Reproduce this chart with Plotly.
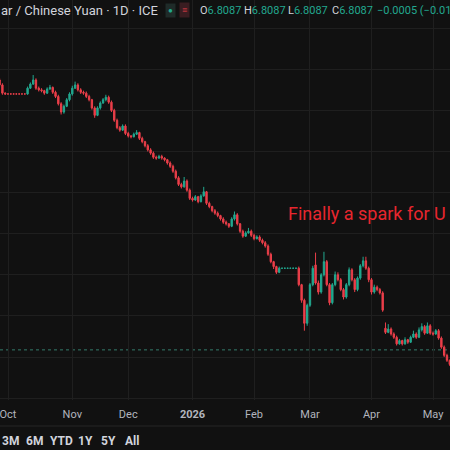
import pandas as pd
import plotly.graph_objects as go

# daily USD/CNH candles (ICE)
opens = [
    7.139, 7.137, 7.131, 7.121, 7.120, 7.120, 7.120, 7.120, 7.120, 7.120,
    7.120, 7.120, 7.127, 7.132, 7.137, 7.127, 7.125, 7.124, 7.121, 7.126,
    7.128, 7.122, 7.117, 7.108, 7.098, 7.105, 7.113, 7.120, 7.127, 7.131,
    7.125, 7.122, 7.121, 7.117, 7.113, 7.103, 7.094, 7.103, 7.109, 7.113,
    7.116, 7.110, 7.100, 7.088, 7.079, 7.076, 7.081, 7.072, 7.069, 7.068,
    7.071, 7.073, 7.066, 7.062, 7.057, 7.052, 7.048, 7.043, 7.042, 7.044,
    7.042, 7.040, 7.036, 7.032, 7.026, 7.018, 7.010, 7.007, 7.014, 7.003,
    6.993, 6.991, 6.995, 6.989, 6.996, 7.001, 6.987, 6.983, 6.978, 6.975,
    6.972, 6.968, 6.964, 6.962, 6.959, 6.968, 6.973, 6.962, 6.953, 6.947,
    6.951, 6.953, 6.948, 6.944, 6.946, 6.942, 6.939, 6.935, 6.925, 6.916,
    6.910, 6.903, 6.908, 6.908, 6.908, 6.908, 6.908, 6.908, 6.908, 6.888,
    6.869, 6.841, 6.863, 6.888, 6.912, 6.890, 6.879, 6.900, 6.916, 6.888,
    6.866, 6.888, 6.900, 6.894, 6.882, 6.873, 6.888, 6.906, 6.894, 6.882,
    6.896, 6.911, 6.917, 6.908, 6.894, 6.879, 6.885, 6.882, 6.878, 6.835,
    6.830, 6.834, 6.828, 6.824, 6.816, 6.820, 6.816, 6.821, 6.818, 6.824,
    6.828, 6.824, 6.833, 6.837, 6.829, 6.838, 6.829, 6.828, 6.832, 6.823,
    6.812, 6.802, 6.796,
]
highs = [
    7.142, 7.139, 7.133, 7.122, 7.120, 7.120, 7.120, 7.120, 7.120, 7.120,
    7.120, 7.129, 7.134, 7.143, 7.139, 7.129, 7.127, 7.125, 7.128, 7.131,
    7.129, 7.124, 7.119, 7.110, 7.107, 7.115, 7.122, 7.130, 7.135, 7.133,
    7.127, 7.124, 7.123, 7.119, 7.114, 7.105, 7.105, 7.111, 7.115, 7.119,
    7.118, 7.112, 7.102, 7.090, 7.081, 7.083, 7.083, 7.074, 7.070, 7.073,
    7.076, 7.074, 7.068, 7.063, 7.059, 7.054, 7.050, 7.045, 7.046, 7.046,
    7.043, 7.041, 7.038, 7.034, 7.028, 7.020, 7.012, 7.019, 7.016, 7.005,
    6.995, 6.997, 6.996, 6.998, 7.007, 7.002, 6.989, 6.984, 6.980, 6.977,
    6.973, 6.970, 6.966, 6.963, 6.970, 6.977, 6.975, 6.963, 6.955, 6.953,
    6.957, 6.955, 6.950, 6.948, 6.948, 6.944, 6.941, 6.937, 6.927, 6.917,
    6.911, 6.910, 6.908, 6.908, 6.908, 6.908, 6.908, 6.908, 6.910, 6.889,
    6.871, 6.865, 6.890, 6.911, 6.927, 6.893, 6.902, 6.928, 6.918, 6.890,
    6.890, 6.904, 6.903, 6.896, 6.884, 6.890, 6.909, 6.908, 6.896, 6.898,
    6.913, 6.922, 6.922, 6.910, 6.896, 6.888, 6.887, 6.884, 6.880, 6.842,
    6.840, 6.836, 6.830, 6.826, 6.822, 6.821, 6.824, 6.822, 6.826, 6.832,
    6.830, 6.836, 6.841, 6.839, 6.842, 6.840, 6.831, 6.834, 6.834, 6.825,
    6.814, 6.804, 6.797,
]
lows = [
    7.135, 7.129, 7.119, 7.119, 7.120, 7.120, 7.120, 7.120, 7.120, 7.120,
    7.120, 7.119, 7.126, 7.131, 7.125, 7.123, 7.122, 7.119, 7.120, 7.125,
    7.120, 7.115, 7.106, 7.095, 7.096, 7.104, 7.111, 7.118, 7.126, 7.123,
    7.120, 7.119, 7.115, 7.111, 7.101, 7.091, 7.093, 7.101, 7.108, 7.111,
    7.108, 7.098, 7.086, 7.077, 7.074, 7.075, 7.070, 7.067, 7.066, 7.067,
    7.070, 7.064, 7.060, 7.055, 7.050, 7.046, 7.041, 7.040, 7.041, 7.040,
    7.038, 7.034, 7.030, 7.024, 7.016, 7.008, 7.005, 7.006, 7.001, 6.991,
    6.989, 6.990, 6.987, 6.988, 6.995, 6.985, 6.981, 6.976, 6.973, 6.970,
    6.966, 6.962, 6.960, 6.957, 6.958, 6.966, 6.960, 6.951, 6.945, 6.946,
    6.950, 6.946, 6.942, 6.943, 6.940, 6.937, 6.933, 6.923, 6.914, 6.907,
    6.901, 6.902, 6.908, 6.908, 6.908, 6.908, 6.908, 6.908, 6.886, 6.866,
    6.832, 6.838, 6.861, 6.886, 6.888, 6.876, 6.877, 6.898, 6.886, 6.863,
    6.864, 6.886, 6.892, 6.880, 6.870, 6.871, 6.886, 6.892, 6.879, 6.880,
    6.894, 6.909, 6.906, 6.891, 6.876, 6.877, 6.880, 6.876, 6.855, 6.828,
    6.829, 6.826, 6.822, 6.814, 6.815, 6.814, 6.815, 6.816, 6.817, 6.823,
    6.822, 6.823, 6.831, 6.827, 6.828, 6.827, 6.826, 6.827, 6.821, 6.810,
    6.800, 6.794, 6.789,
]
closes = [
    7.137, 7.131, 7.121, 7.120, 7.120, 7.120, 7.120, 7.120, 7.120, 7.120,
    7.120, 7.127, 7.132, 7.137, 7.127, 7.125, 7.124, 7.121, 7.126, 7.128,
    7.122, 7.117, 7.108, 7.098, 7.105, 7.113, 7.120, 7.127, 7.131, 7.125,
    7.122, 7.121, 7.117, 7.113, 7.103, 7.094, 7.103, 7.109, 7.113, 7.116,
    7.110, 7.100, 7.088, 7.079, 7.076, 7.081, 7.072, 7.069, 7.068, 7.071,
    7.073, 7.066, 7.062, 7.057, 7.052, 7.048, 7.043, 7.042, 7.044, 7.042,
    7.040, 7.036, 7.032, 7.026, 7.018, 7.010, 7.007, 7.014, 7.003, 6.993,
    6.991, 6.995, 6.989, 6.996, 7.001, 6.987, 6.983, 6.978, 6.975, 6.972,
    6.968, 6.964, 6.962, 6.959, 6.968, 6.973, 6.962, 6.953, 6.947, 6.951,
    6.953, 6.948, 6.944, 6.946, 6.942, 6.939, 6.935, 6.925, 6.916, 6.910,
    6.903, 6.908, 6.908, 6.908, 6.908, 6.908, 6.908, 6.908, 6.888, 6.869,
    6.841, 6.863, 6.888, 6.908, 6.890, 6.879, 6.900, 6.916, 6.888, 6.866,
    6.888, 6.900, 6.894, 6.882, 6.873, 6.888, 6.906, 6.894, 6.882, 6.896,
    6.911, 6.917, 6.908, 6.894, 6.879, 6.885, 6.882, 6.878, 6.857, 6.830,
    6.834, 6.828, 6.824, 6.816, 6.820, 6.816, 6.821, 6.818, 6.824, 6.828,
    6.824, 6.833, 6.837, 6.829, 6.838, 6.829, 6.828, 6.832, 6.823, 6.812,
    6.802, 6.796, 6.791,
]

dates = [d.strftime("%Y-%m-%d") for d in pd.bdate_range("2025-09-25", periods=len(closes))]

month_ticks = ["2025-10-01", "2025-11-03", "2025-12-01", "2026-01-01",
               "2026-02-02", "2026-03-02", "2026-04-01", "2026-05-01"]
month_labels = ["Oct", "Nov", "Dec", "<b>2026</b>", "Feb", "Mar", "Apr", "May"]

last_price = 6.8087
legend_title = "ar / Chinese Yuan · 1D · ICE"
ohlc_fields = [("O", "6.8087"), ("H", "6.8087"), ("L", "6.8087"), ("C", "6.8087")]
change_text = "−0.0005 (−0.01%"
note_text = "Finally a spark for U"
range_buttons = ["3M", "6M", "YTD", "1Y", "5Y", "All"]

BG = "#111111"
GRID = "#1f1f1f"
UP = "#22a88f"
DOWN = "#ec3f4a"
TXT = "#d1d4dc"
FONT = "Roboto"

W, H, PLOT_H = 450, 450, 400


def xp(px):
    return px / W


def yp(py):
    return (PLOT_H - py) / PLOT_H


fig = go.Figure(
    go.Candlestick(
        x=dates, open=opens, high=highs, low=lows, close=closes,
        increasing=dict(line=dict(color=UP, width=1), fillcolor=UP),
        decreasing=dict(line=dict(color=DOWN, width=1), fillcolor=DOWN),
        whiskerwidth=0, showlegend=False, hoverinfo="skip",
    )
)

fig.add_shape(type="line", xref="paper", x0=0, x1=1, yref="y", y0=last_price, y1=last_price,
              line=dict(color="rgba(60,150,130,0.8)", width=1, dash="dot"), layer="below")
fig.add_shape(type="line", xref="paper", x0=0, x1=1, yref="paper", y0=yp(426), y1=yp(426),
              line=dict(color="#262626", width=1))

ann = []
ann.append(dict(x=xp(-1), y=yp(10), text=legend_title, xanchor="left",
                font=dict(color=TXT, size=13)))
ann.append(dict(x=xp(170), y=yp(10), text="●", xanchor="center", bgcolor="#1f2b29",
                font=dict(color=UP, size=8), borderpad=2))
ann.append(dict(x=xp(184), y=yp(10), text="≡", xanchor="center", bgcolor="#3a1d21",
                font=dict(color=DOWN, size=9), borderpad=2))
for (lbl, val), px in zip(ohlc_fields, [198, 242, 286, 330]):
    ann.append(dict(x=xp(px), y=yp(10), xanchor="left",
                    text=f"{lbl}<span style='color:{UP}'>{val}</span>",
                    font=dict(color=TXT, size=11)))
ann.append(dict(x=xp(375), y=yp(10), xanchor="left", text=change_text,
                font=dict(color=UP, size=11)))
ann.append(dict(x=xp(286), y=yp(213), xanchor="left", text=note_text,
                font=dict(color="#e8262e", size=18)))
for lbl, px in zip(range_buttons, [10, 34.5, 61, 85.5, 108.5, 131.5]):
    ann.append(dict(x=xp(px), y=yp(441), xanchor="center", text=f"<b>{lbl}</b>",
                    font=dict(color=TXT, size=12)))
for a in ann:
    a.update(xref="paper", yref="paper", yanchor="middle", showarrow=False)

fig.update_layout(
    width=W, height=H,
    margin=dict(l=0, r=0, t=0, b=H - PLOT_H),
    paper_bgcolor=BG, plot_bgcolor=BG,
    font=dict(family=FONT, color=TXT),
    annotations=ann,
    xaxis=dict(
        type="category", range=[1.14, 162.08], rangeslider=dict(visible=False),
        tickmode="array", tickvals=month_ticks, ticktext=month_labels,
        showgrid=True, gridcolor=GRID, gridwidth=1, zeroline=False,
        ticks="outside", ticklen=4, tickcolor=BG,
        tickfont=dict(size=11, color="#b2b5be"),
    ),
    yaxis=dict(
        range=[6.7477, 7.2343], tick0=6.8, dtick=0.05,
        showgrid=True, gridcolor=GRID, gridwidth=1, zeroline=False,
        showticklabels=False,
    ),
)

# drop the default page margin so the 450x450 figure fills the window
fig.write_html(
    "out.html",
    config={"displayModeBar": False},
    post_script="document.body.style.margin='0';document.body.style.background='#111111';",
)
